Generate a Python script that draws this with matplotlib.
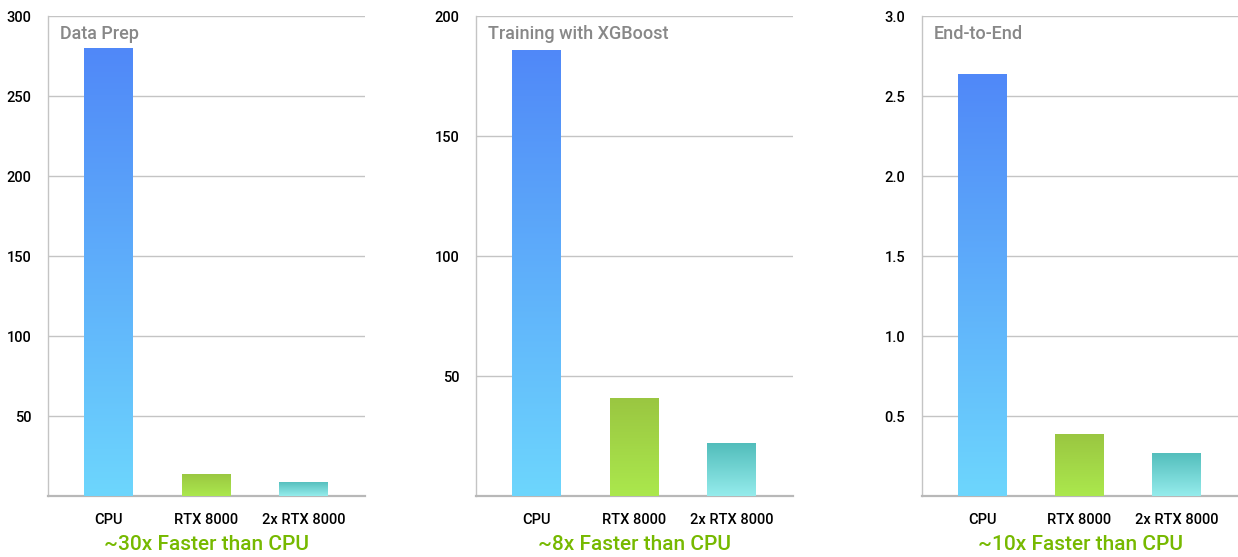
import matplotlib
matplotlib.use("Agg")
import matplotlib.pyplot as plt
import numpy as np
from matplotlib.colors import LinearSegmentedColormap

plt.rcParams['font.family'] = ['Roboto', 'DejaVu Sans']
plt.rcParams['font.weight'] = 'medium'

categories = ["CPU", "RTX 8000", "2x RTX 8000"]
titles = ["Data Prep", "Training with XGBoost", "End-to-End"]
data_prep = [280, 14, 9]
training = [186, 41, 22]
end_to_end = [2.64, 0.39, 0.27]
series = [data_prep, training, end_to_end]
ylims = [300, 200, 3.0]
yticks = [[50, 100, 150, 200, 250, 300], [50, 100, 150, 200], [0.5, 1.0, 1.5, 2.0, 2.5, 3.0]]
ytick_labels = [["50", "100", "150", "200", "250", "300"], ["50", "100", "150", "200"],
                ["0.5", "1.0", "1.5", "2.0", "2.5", "3.0"]]
speedups = ["~30x Faster than CPU", "~8x Faster than CPU", "~10x Faster than CPU"]

# gradient (top, bottom) per category
grads = [("#5088F8", "#6DD6FD"), ("#9AC641", "#ABE84D"), ("#52BDBB", "#95ECEC")]

fig = plt.figure(figsize=(12.38, 5.57), dpi=100)
W, H = 1238, 557
lefts = [48, 476, 922]
rights = [365, 793, 1238]
top_px, bot_px = 16, 496

for i in range(3):
    l, r = lefts[i], rights[i]
    ax = fig.add_axes([l / W, 1 - bot_px / H, (r - l) / W, (bot_px - top_px) / H])
    vals = series[i]
    x = np.arange(len(categories))
    bars = ax.bar(x, vals, width=0.5, color="none", edgecolor="none", zorder=3)
    for j, b in enumerate(bars):
        cmap = LinearSegmentedColormap.from_list("g", [grads[j][0], grads[j][1]])
        grad = np.linspace(0, 1, 256).reshape(-1, 1)
        x0 = b.get_x()
        x1 = x0 + b.get_width()
        h = b.get_height()
        im = ax.imshow(grad, cmap=cmap, extent=[x0, x1, 0, h], origin="upper",
                       aspect="auto", zorder=3, interpolation="bicubic")
        im.set_clip_path(b)
    ax.set_xlim(-0.62, 2.63)
    ax.set_ylim(0, ylims[i])
    ax.set_yticks(yticks[i])
    ax.set_yticklabels(ytick_labels[i])
    ax.set_xticks(x)
    ax.set_xticklabels(categories)
    ax.tick_params(axis="both", length=0, labelsize=10.5, colors="black")
    ax.tick_params(axis="y", pad=12)
    ax.tick_params(axis="x", pad=12)
    ax.yaxis.grid(True, color="#c4c4c4", linewidth=1.0, zorder=0)
    ax.set_axisbelow(True)
    for s in ["top", "right"]:
        ax.spines[s].set_visible(False)
    ax.spines["left"].set_color("#c4c4c4")
    ax.spines["left"].set_linewidth(1.0)
    ax.spines["bottom"].set_color("#b8b8b8")
    ax.spines["bottom"].set_linewidth(1.6)
    ax.text(12 / (r - l), 1 - 18 / (bot_px - top_px), titles[i], transform=ax.transAxes,
            ha="left", va="center", fontsize=13, color="#888888")
    fig.text(((l + r) / 2) / W, 1 - 544 / H, speedups[i], ha="center", va="center",
             fontsize=15, color="#76B900")

fig.savefig("out.png", dpi=100)
